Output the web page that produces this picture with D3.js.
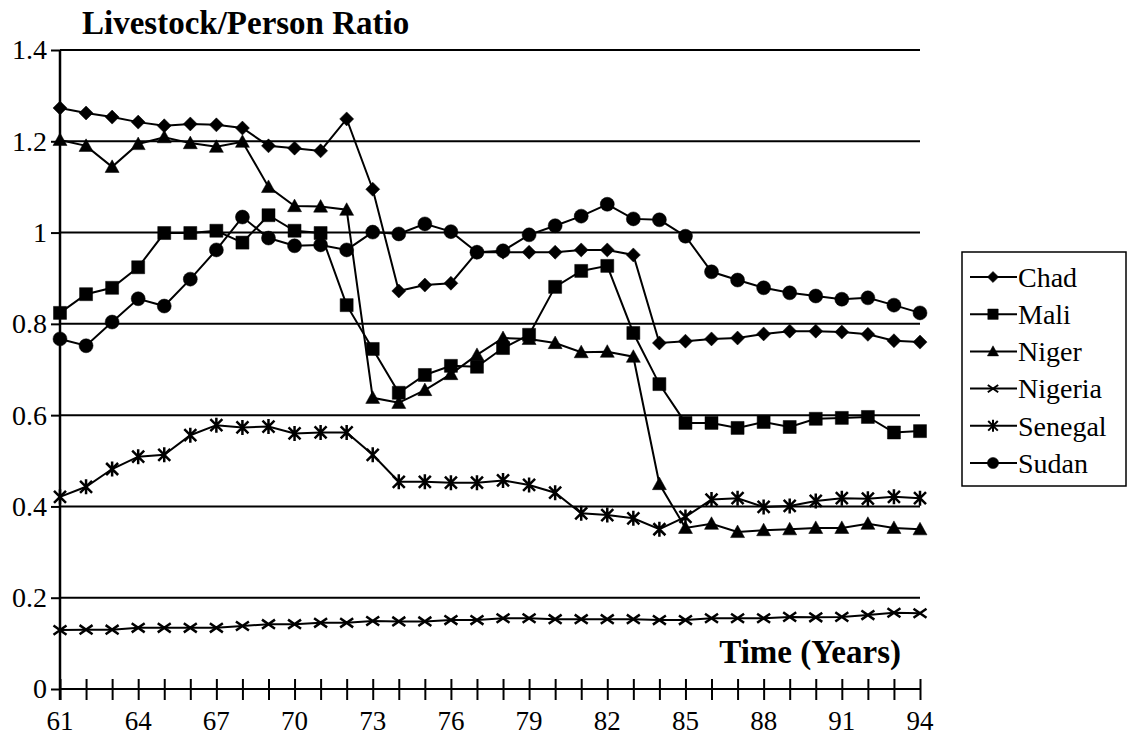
<!DOCTYPE html>
<html>
<head>
<meta charset="utf-8">
<script src="https://cdn.jsdelivr.net/npm/d3@7"></script>
<style>
  body { margin: 0; background: #fff; }
  text { font-family: "Liberation Serif", "Times New Roman", serif; fill: #000; }
</style>
</head>
<body>
<div id="chart"></div>
<script>
var years = [61, 62, 63, 64, 65, 66, 67, 68, 69, 70, 71, 72, 73, 74, 75, 76, 77,
             78, 79, 80, 81, 82, 83, 84, 85, 86, 87, 88, 89, 90, 91, 92, 93, 94];
var xTickLabels = [61, 64, 67, 70, 73, 76, 79, 82, 85, 88, 91, 94];
var yTicks = [0, 0.2, 0.4, 0.6, 0.8, 1, 1.2, 1.4];

var chad = [1.273, 1.262, 1.253, 1.242, 1.234, 1.238, 1.236, 1.229, 1.190, 1.185, 1.179, 1.249,
            1.095, 0.872, 0.885, 0.889, 0.957, 0.957, 0.957, 0.957, 0.962, 0.962, 0.951, 0.758,
            0.762, 0.767, 0.769, 0.778, 0.784, 0.784, 0.782, 0.777, 0.763, 0.760];
var mali = [0.824, 0.865, 0.879, 0.924, 0.999, 0.999, 1.004, 0.978, 1.038, 1.004, 0.999, 0.841,
            0.745, 0.649, 0.688, 0.708, 0.706, 0.747, 0.776, 0.881, 0.916, 0.927, 0.780, 0.668,
            0.583, 0.583, 0.572, 0.585, 0.574, 0.592, 0.594, 0.596, 0.562, 0.565];
var niger = [1.203, 1.190, 1.144, 1.194, 1.209, 1.196, 1.188, 1.199, 1.100, 1.058, 1.057, 1.050,
             0.638, 0.627, 0.655, 0.690, 0.732, 0.769, 0.767, 0.758, 0.738, 0.739, 0.728, 0.449,
             0.353, 0.362, 0.344, 0.348, 0.350, 0.353, 0.353, 0.362, 0.353, 0.350];
var nigeria = [0.129, 0.130, 0.130, 0.134, 0.134, 0.134, 0.134, 0.138, 0.142, 0.142, 0.145, 0.145,
               0.149, 0.148, 0.148, 0.151, 0.151, 0.155, 0.155, 0.153, 0.153, 0.153, 0.153, 0.151,
               0.151, 0.155, 0.155, 0.155, 0.158, 0.157, 0.158, 0.162, 0.167, 0.166];
var senegal = [0.421, 0.443, 0.482, 0.509, 0.513, 0.556, 0.578, 0.573, 0.575, 0.560, 0.562, 0.562,
               0.513, 0.454, 0.454, 0.452, 0.452, 0.457, 0.447, 0.430, 0.385, 0.381, 0.374, 0.350,
               0.377, 0.415, 0.418, 0.399, 0.401, 0.412, 0.418, 0.417, 0.421, 0.418];
var sudan = [0.767, 0.752, 0.804, 0.855, 0.839, 0.898, 0.962, 1.034, 0.988, 0.971, 0.973, 0.962,
             1.001, 0.997, 1.019, 1.002, 0.957, 0.960, 0.995, 1.015, 1.036, 1.062, 1.030, 1.028,
             0.992, 0.914, 0.896, 0.879, 0.868, 0.861, 0.854, 0.857, 0.841, 0.824];

var seriesNames = ["Chad", "Mali", "Niger", "Nigeria", "Senegal", "Sudan"];
var seriesValues = [chad, mali, niger, nigeria, senegal, sudan];
var markerTypes = ["diamond", "square", "triangle", "cross", "star", "circle"];

var width = 1127, height = 738;
var plot = {left: 60, right: 920, top: 50, bottom: 689};

var svg = d3.select("#chart").append("svg")
    .attr("width", width)
    .attr("height", height);

var x = d3.scaleLinear().domain([61, 94]).range([plot.left, plot.right]);
var y = d3.scaleLinear().domain([0, 1.4]).range([plot.bottom, plot.top]);

// marker shapes, s = half size
function marker(type, s) {
  if (type == "diamond") return "M0," + (-s) + "L" + s + ",0L0," + s + "L" + (-s) + ",0Z";
  if (type == "square") return "M" + (-s) + "," + (-s) + "h" + 2 * s + "v" + 2 * s + "h" + (-2 * s) + "Z";
  if (type == "triangle") return "M0," + (-s) + "L" + s + "," + s * 0.8 + "L" + (-s) + "," + s * 0.8 + "Z";
  if (type == "cross") return "M" + (-s) + "," + (-s * 0.7) + "L" + s + "," + s * 0.7 + "M" + (-s) + "," + s * 0.7 + "L" + s + "," + (-s * 0.7);
  if (type == "star") return "M" + (-s * 0.8) + "," + (-s * 0.8) + "L" + s * 0.8 + "," + s * 0.8 +
      "M" + (-s * 0.8) + "," + s * 0.8 + "L" + s * 0.8 + "," + (-s * 0.8) + "M0," + (-s) + "L0," + s;
  return d3.arc()({innerRadius: 0, outerRadius: s, startAngle: 0, endAngle: 2 * Math.PI});
}
var markerSize = {diamond: 7, square: 6.5, triangle: 7, cross: 6.5, star: 7.5, circle: 7};
function isStroked(t) { return t == "cross" || t == "star"; }

// gridlines
svg.append("g")
  .selectAll("line")
  .data(yTicks.filter(function (d) { return d > 0; }))
  .join("line")
    .attr("x1", plot.left).attr("x2", plot.right)
    .attr("y1", function (d) { return y(d); })
    .attr("y2", function (d) { return y(d); })
    .attr("stroke", "#000").attr("stroke-width", 2);

// y axis
var yAxis = svg.append("g")
    .attr("transform", "translate(" + plot.left + ",0)")
    .call(d3.axisLeft(y).tickValues(yTicks).tickSize(9).tickPadding(4)
      .tickFormat(function (d) { return d == 0 || d == 1 ? d3.format("d")(d) : d3.format(".1f")(d); }));
yAxis.select(".domain").remove();
yAxis.selectAll("line").attr("stroke", "#000").attr("stroke-width", 2);
yAxis.selectAll("text").attr("font-size", 28).style("font-family", "Liberation Serif, serif");
svg.append("line")
    .attr("x1", plot.left).attr("x2", plot.left).attr("y1", plot.top).attr("y2", plot.bottom + 11)
    .attr("stroke", "#000").attr("stroke-width", 2.5);

// x axis with crossing ticks
var xAxis = svg.append("g")
    .attr("transform", "translate(0," + plot.bottom + ")")
    .call(d3.axisBottom(x).tickValues(years).tickSize(11).tickPadding(0).tickFormat(""));
xAxis.select(".domain").remove();
xAxis.selectAll(".tick line").attr("y1", -10).attr("y2", 11)
    .attr("stroke", "#000").attr("stroke-width", 2);
svg.append("line")
    .attr("x1", plot.left).attr("x2", plot.right).attr("y1", plot.bottom).attr("y2", plot.bottom)
    .attr("stroke", "#000").attr("stroke-width", 2);
svg.append("g")
  .selectAll("text")
  .data(xTickLabels)
  .join("text")
    .attr("x", function (d) { return x(d); })
    .attr("y", 730)
    .attr("text-anchor", "middle")
    .attr("font-size", 27)
    .text(function (d) { return d; });

// series
var line = d3.line()
    .x(function (d, i) { return x(years[i]); })
    .y(function (d) { return y(d); });

seriesValues.forEach(function (vals, k) {
  var t = markerTypes[k];
  var g = svg.append("g");
  g.append("path")
      .attr("d", line(vals))
      .attr("fill", "none")
      .attr("stroke", "#000")
      .attr("stroke-width", 2);
  g.selectAll("path.m")
    .data(vals)
    .join("path")
      .attr("class", "m")
      .attr("transform", function (d, i) { return "translate(" + x(years[i]) + "," + y(d) + ")"; })
      .attr("d", marker(t, markerSize[t]))
      .attr("fill", isStroked(t) ? "none" : "#000")
      .attr("stroke", "#000")
      .attr("stroke-width", isStroked(t) ? 2.5 : 0.5);
});

// titles
svg.append("text")
    .attr("x", 82).attr("y", 34)
    .attr("font-size", 33).attr("font-weight", "bold")
    .text("Livestock/Person Ratio");
svg.append("text")
    .attr("x", 901).attr("y", 663)
    .attr("text-anchor", "end")
    .attr("font-size", 33).attr("font-weight", "bold")
    .text("Time (Years)");

// legend
var legend = svg.append("g");
legend.append("rect")
    .attr("x", 962).attr("y", 252).attr("width", 164).attr("height", 234)
    .attr("fill", "#fff").attr("stroke", "#000").attr("stroke-width", 1.5);
var item = legend.selectAll("g.item")
  .data(seriesNames)
  .join("g")
    .attr("class", "item")
    .attr("transform", function (d, i) { return "translate(0," + (277 + i * 37.2) + ")"; });
item.append("line")
    .attr("x1", 970).attr("x2", 1017)
    .attr("stroke", "#000").attr("stroke-width", 2);
item.append("path")
    .attr("transform", "translate(993,0)")
    .attr("d", function (d, i) { var t = markerTypes[i]; return marker(t, markerSize[t] * 0.8); })
    .attr("fill", function (d, i) { return isStroked(markerTypes[i]) ? "none" : "#000"; })
    .attr("stroke", "#000")
    .attr("stroke-width", function (d, i) { return isStroked(markerTypes[i]) ? 2 : 0.5; });
item.append("text")
    .attr("x", 1018).attr("y", 0)
    .attr("dy", "0.35em")
    .attr("font-size", 28)
    .text(function (d) { return d; });
</script>
</body>
</html>
